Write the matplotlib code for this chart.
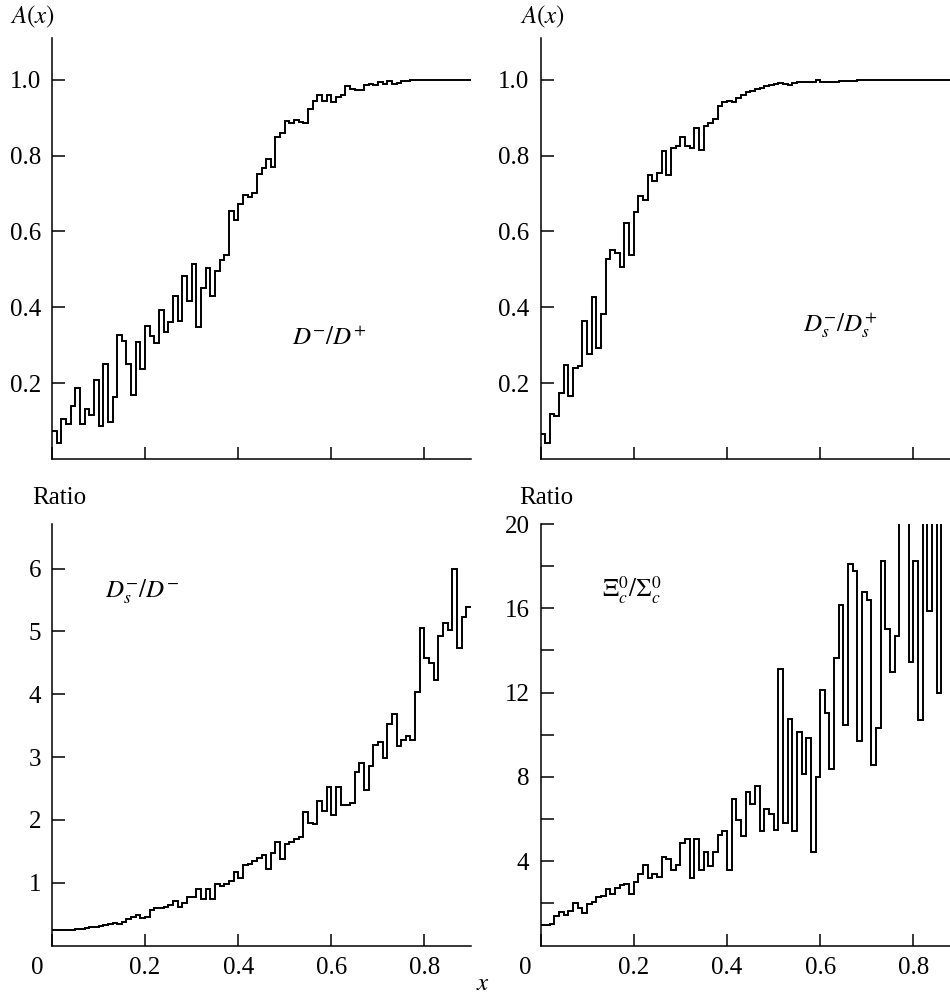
import numpy as np
import matplotlib
matplotlib.use("Agg")
import matplotlib.pyplot as plt
import matplotlib.transforms as mtransforms

plt.rcParams['font.family'] = ['Liberation Serif', 'DejaVu Serif']
plt.rcParams['mathtext.fontset'] = 'stix'

# bins of width 0.01 from 0 to 0.9
bin_edges = np.round(np.arange(91) * 0.01, 2)

# A(x) for D-/D+
a_dd = [0.074, 0.041, 0.105, 0.093, 0.14, 0.186, 0.092, 0.133, 0.115, 0.208,
        0.086, 0.25, 0.098, 0.164, 0.328, 0.31, 0.25, 0.17, 0.309, 0.237,
        0.351, 0.323, 0.305, 0.393, 0.334, 0.36, 0.429, 0.364, 0.483, 0.417,
        0.513, 0.349, 0.451, 0.503, 0.431, 0.495, 0.525, 0.538, 0.655, 0.631,
        0.673, 0.697, 0.692, 0.702, 0.752, 0.767, 0.792, 0.771, 0.85, 0.86,
        0.89, 0.886, 0.895, 0.888, 0.886, 0.924, 0.943, 0.959, 0.943, 0.959,
        0.941, 0.955, 0.959, 0.983, 0.976, 0.974, 0.972, 0.985, 0.989, 0.987,
        0.994, 0.99, 0.996, 0.99, 0.992, 0.996, 0.997, 0.998, 0.998, 0.998,
        0.999, 0.999, 0.999, 0.999, 0.999, 1.0, 1.0, 1.0, 1.0, 1.0]

# A(x) for Ds-/Ds+
a_dsds = [0.065, 0.043, 0.119, 0.114, 0.175, 0.249, 0.165, 0.241, 0.246, 0.363,
          0.277, 0.427, 0.293, 0.383, 0.526, 0.552, 0.542, 0.507, 0.623, 0.537,
          0.65, 0.693, 0.683, 0.748, 0.732, 0.755, 0.811, 0.748, 0.82, 0.824,
          0.848, 0.824, 0.821, 0.874, 0.814, 0.878, 0.885, 0.896, 0.931, 0.942,
          0.944, 0.942, 0.953, 0.959, 0.968, 0.970, 0.975, 0.978, 0.983, 0.987,
          0.990, 0.992, 0.990, 0.986, 0.992, 0.994, 0.993, 0.995, 0.994, 0.998,
          0.993, 0.994, 0.995, 0.994, 0.996, 0.997, 0.997, 0.997, 0.999, 0.999,
          0.999, 0.999, 0.999, 1.0, 1.0, 1.0, 1.0, 1.0, 1.0, 1.0,
          1.0, 1.0, 1.0, 1.0, 1.0, 1.0, 1.0, 1.0, 1.0, 1.0]

# ratio Ds-/D-
r_dsd = [0.24, 0.24, 0.24, 0.245, 0.25, 0.26, 0.27, 0.28, 0.29, 0.30,
         0.31, 0.33, 0.345, 0.36, 0.34, 0.37, 0.42, 0.45, 0.48, 0.43,
         0.46, 0.57, 0.59, 0.59, 0.62, 0.65, 0.71, 0.62, 0.68, 0.78,
         0.78, 0.90, 0.74, 0.90, 0.74, 0.98, 0.94, 0.98, 1.03, 1.17,
         1.08, 1.28, 1.30, 1.34, 1.39, 1.44, 1.21, 1.48, 1.65, 1.38,
         1.62, 1.65, 1.69, 1.73, 2.13, 1.95, 1.93, 2.30, 2.14, 2.52,
         2.08, 2.53, 2.23, 2.24, 2.27, 2.76, 2.90, 2.47, 2.86, 3.19,
         3.24, 2.99, 3.52, 3.69, 3.17, 3.27, 3.34, 3.27, 4.03, 5.06,
         4.58, 4.50, 4.23, 4.92, 5.14, 5.03, 6.0, 4.73, 5.23, 5.39]

# ratio Xi_c0/Sigma_c0 (values above 20 run off the top)
r_xisig = [0.95, 0.97, 1.0, 1.42, 1.58, 1.47, 1.66, 2.0, 1.77, 1.53,
           1.98, 2.06, 2.29, 2.37, 2.69, 2.45, 2.74, 2.85, 2.92, 2.45,
           3.0, 3.37, 3.80, 3.21, 3.40, 3.27, 4.19, 4.11, 3.60, 3.84,
           4.85, 5.03, 3.19, 5.03, 3.60, 4.46, 3.79, 4.46, 5.22, 5.42,
           3.6, 6.96, 5.96, 5.19, 7.27, 6.72, 7.56, 5.45, 6.48, 6.25,
           5.49, 13.12, 5.80, 10.75, 5.41, 10.12, 8.14, 9.83, 4.46, 7.98,
           12.14, 11.02, 8.38, 13.63, 16.16, 10.47, 18.1, 17.76, 9.69, 16.76,
           16.39, 8.58, 10.31, 18.23, 15.02, 12.96, 14.67, 22.0, 22.0, 13.44,
           18.26, 10.72, 22.0, 15.89, 22.0, 11.98, 22.0, 22.0, 22.0, 22.0]

x_ticks = [0, 0.2, 0.4, 0.6, 0.8]
x_ticklabels = ['0', '0.2', '0.4', '0.6', '0.8']

fig = plt.figure(figsize=(9.5, 9.96), dpi=100)

W, H = 950.0, 996.0
def box(x0, x1, ytop, ybot):
    return [x0 / W, 1 - ybot / H, (x1 - x0) / W, (ybot - ytop) / H]

ax1 = fig.add_axes(box(52, 471, 38, 459))
ax2 = fig.add_axes(box(540.5, 960, 38, 459))
ax3 = fig.add_axes(box(52, 471, 524, 945.5))
ax4 = fig.add_axes(box(540.5, 960, 524, 945.5))

panels = [(ax1, a_dd, (0, 1.11)), (ax2, a_dsds, (0, 1.11)),
          (ax3, r_dsd, (0, 6.71)), (ax4, r_xisig, (0, 20))]

for ax, vals, ylim in panels:
    ax.stairs(vals, bin_edges, color='black', lw=1.4, baseline=None)
    ax.set_xlim(0, 0.9)
    ax.set_ylim(*ylim)
    ax.spines['top'].set_visible(False)
    ax.spines['right'].set_visible(False)
    ax.spines['left'].set_linewidth(1.1)
    ax.spines['bottom'].set_linewidth(1.1)
    ax.tick_params(direction='in', length=9, width=1.1, labelsize=18, pad=8)
    ax.set_xticks(x_ticks)

for ax in (ax1, ax2):
    ax.set_yticks([0.2, 0.4, 0.6, 0.8, 1.0])
    ax.set_yticklabels(['0.2', '0.4', '0.6', '0.8', '1.0'])
    ax.tick_params(axis='x', labelbottom=False)

ax3.set_yticks([1, 2, 3, 4, 5, 6])
ax3.set_yticklabels(['1', '2', '3', '4', '5', '6'])
ax4.set_yticks([2, 4, 6, 8, 10, 12, 14, 16, 18, 20])
ax4.set_yticklabels(['', '4', '', '8', '', '12', '', '16', '', '20'])

shift = mtransforms.ScaledTranslation(-15 / 100, 0, fig.dpi_scale_trans)
for ax in (ax3, ax4):
    ax.set_xticklabels(x_ticklabels)
    lab0 = ax.get_xticklabels()[0]
    lab0.set_transform(lab0.get_transform() + shift)

# axis titles
fig.text(10 / W, 1 - 17 / H, '$A(x)$', fontsize=18, va='center', ha='left')
fig.text(520 / W, 1 - 17 / H, '$A(x)$', fontsize=18, va='center', ha='left')
fig.text(32 / W, 1 - 498 / H, 'Ratio', fontsize=18, va='center', ha='left')
fig.text(519 / W, 1 - 498 / H, 'Ratio', fontsize=18, va='center', ha='left')
fig.text(483 / W, 1 - 984 / H, '$x$', fontsize=18, va='center', ha='center')

# curve labels
fig.text(329 / W, 1 - 338 / H, '$D^{-}/D^{+}$', fontsize=18, va='center', ha='center')
fig.text(840 / W, 1 - 325 / H, '$D_s^{-}/D_s^{+}$', fontsize=18, va='center', ha='center')
fig.text(142 / W, 1 - 592 / H, '$D_s^{-}/D^{-}$', fontsize=18, va='center', ha='center')
fig.text(632 / W, 1 - 590 / H, r'$\Xi_c^{0}/\Sigma_c^{0}$', fontsize=18, va='center', ha='center')

fig.savefig('out.png', dpi=100)
